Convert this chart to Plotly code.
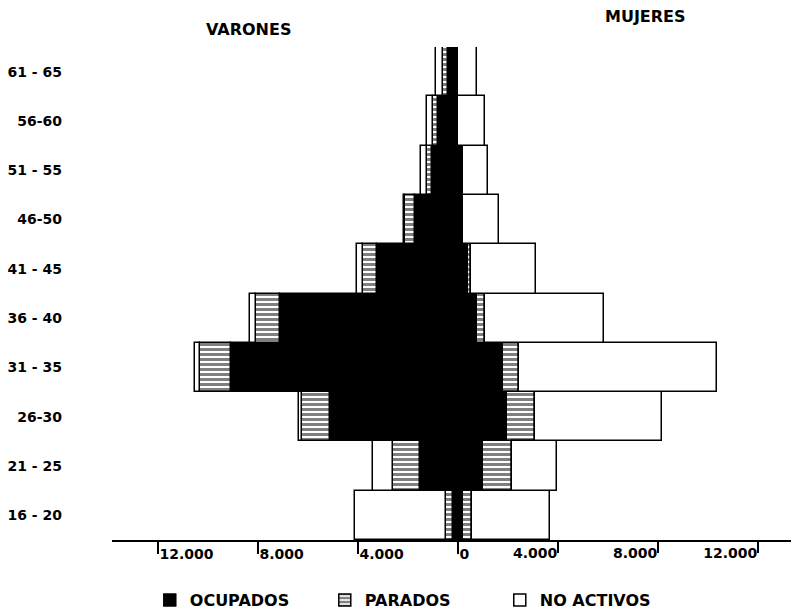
import plotly.graph_objects as go

# Age groups (bottom to top)
age_groups = ["16 - 20", "21 - 25", "26-30", "31 - 35", "36 - 40",
              "41 - 45", "46-50", "51 - 55", "56-60", "61 - 65"]

# VARONES (men)
m_ocupados   = [200, 1520, 5120, 9080, 7120, 3240, 1720, 1040, 800, 400]
m_parados    = [280, 1080, 1120, 1240, 960, 560, 400, 200, 200, 200]
m_no_activos = [3640, 800, 120, 200, 240, 240, 40, 240, 240, 280]

# MUJERES (women)
f_ocupados   = [200, 1000, 1960, 1800, 760, 400, 200, 200, 0, 0]
f_parados    = [360, 1160, 1120, 640, 320, 120, 0, 0, 0, 0]
f_no_activos = [3120, 1800, 5080, 7920, 4760, 2600, 1440, 1000, 1080, 760]

# axis ticks
left_tickvals = [-12000, -8000, -4000, 0]
left_ticktext = ["12.000", "8.000", "4.000", "0"]
right_tickvals = [4000, 8000, 12000]
right_ticktext = ["4.000", "8.000", "12.000"]

FONT = "DejaVu Sans"
line = dict(color="black", width=1.5)
hatch = dict(shape="-", fgcolor="black", bgcolor="white", size=5, solidity=0.6)

fig = go.Figure()

series = [
    ("OCUPADOS", m_ocupados, f_ocupados, dict(color="black", line=line)),
    ("PARADOS", m_parados, f_parados, dict(color="white", line=line, pattern=hatch)),
    ("NO ACTIVOS", m_no_activos, f_no_activos, dict(color="white", line=line)),
]

for name, mv, fv, mk in series:
    fig.add_trace(go.Bar(
        y=age_groups, x=[-v for v in mv], orientation="h", name=name,
        legendgroup=name, showlegend=True, marker=mk,
        customdata=mv, hovertemplate="Varones %{y}: %{customdata}<extra>" + name + "</extra>",
    ))
    fig.add_trace(go.Bar(
        y=age_groups, x=fv, orientation="h", name=name,
        legendgroup=name, showlegend=False, marker=mk,
        hovertemplate="Mujeres %{y}: %{x}<extra>" + name + "</extra>",
    ))

# invisible helper trace on the overlaying axis so it is drawn
fig.add_trace(go.Scatter(x=[0], y=[age_groups[0]], xaxis="x2", mode="markers",
                         marker=dict(opacity=0), showlegend=False, hoverinfo="skip"))

xrange = [-13840, 13640]
fig.update_layout(
    width=791, height=602,
    margin=dict(l=104, r=0, t=39, b=70, autoexpand=False),
    paper_bgcolor="white", plot_bgcolor="white",
    barmode="relative", bargap=0,
    font=dict(family=FONT, size=14, color="black", weight="bold"),
    xaxis=dict(
        range=xrange, tickvals=left_tickvals, ticktext=left_ticktext,
        ticklabelposition="outside right", ticks="outside", ticklen=12, tickwidth=1.5,
        tickcolor="black", showline=True, linecolor="black", linewidth=1.5,
        showgrid=False, zeroline=False, tickfont=dict(size=14), automargin=False,
    ),
    xaxis2=dict(
        range=xrange, overlaying="x", anchor="y", side="bottom",
        tickvals=right_tickvals, ticktext=right_ticktext,
        ticklabelposition="outside left", ticks="outside", ticklen=12, tickwidth=1.5,
        tickcolor="black", showline=False, showgrid=False, zeroline=False,
        tickfont=dict(size=14), automargin=False,
    ),
    yaxis=dict(
        range=[-0.5, 9.5], showline=False, showgrid=False, zeroline=False,
        ticks="", ticklabelstandoff=49, tickfont=dict(size=14), automargin=False,
    ),
    legend=dict(
        orientation="h", x=0.055, xanchor="left", y=-0.122, yanchor="middle",
        font=dict(size=16), entrywidth=130, entrywidthmode="pixels",
        bgcolor="rgba(0,0,0,0)",
    ),
    annotations=[
        dict(text="VARONES", xref="paper", yref="paper", x=0.198, y=1.0345,
             showarrow=False, font=dict(size=16), xanchor="center", yanchor="middle"),
        dict(text="MUJERES", xref="paper", yref="paper", x=0.776, y=1.061,
             showarrow=False, font=dict(size=16), xanchor="center", yanchor="middle"),
    ],
)

fig.write_html("out.html")
